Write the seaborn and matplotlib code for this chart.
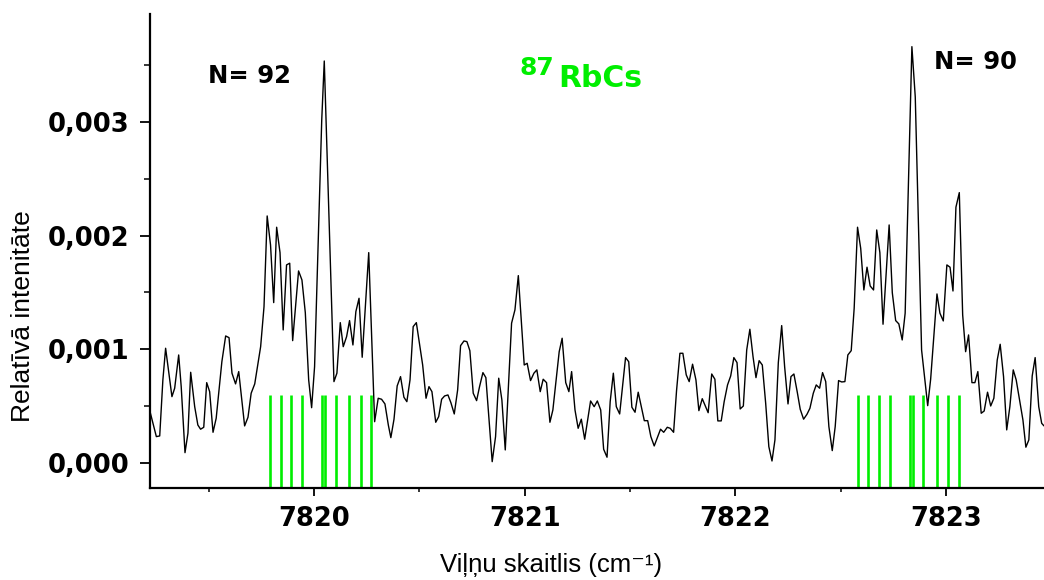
import numpy as np
import pandas as pd
import matplotlib
matplotlib.use("Agg")
import matplotlib.pyplot as plt
from matplotlib.ticker import MultipleLocator, FuncFormatter
import seaborn as sns

# Measured spectrum: wavenumber (cm^-1) and relative intensity (in units of 1e-3)
wavenumber = [
    7819.220, 7819.252, 7819.268, 7819.283, 7819.296, 7819.326, 7819.339, 7819.358, 7819.370, 7819.388,
    7819.402, 7819.415, 7819.434, 7819.449, 7819.462, 7819.477, 7819.491, 7819.505, 7819.521, 7819.536,
    7819.563, 7819.581, 7819.597, 7819.611, 7819.628, 7819.643, 7819.671, 7819.687, 7819.702, 7819.719,
    7819.747, 7819.763, 7819.778, 7819.794, 7819.809, 7819.823, 7819.839, 7819.854, 7819.870, 7819.885,
    7819.899, 7819.927, 7819.943, 7819.959, 7819.975, 7819.989, 7820.003, 7820.037, 7820.049, 7820.095,
    7820.109, 7820.125, 7820.139, 7820.155, 7820.169, 7820.185, 7820.199, 7820.214, 7820.229, 7820.260,
    7820.288, 7820.305, 7820.321, 7820.337, 7820.353, 7820.365, 7820.380, 7820.395, 7820.411, 7820.427,
    7820.441, 7820.456, 7820.471, 7820.486, 7820.516, 7820.532, 7820.546, 7820.560, 7820.578, 7820.592,
    7820.606, 7820.620, 7820.636, 7820.650, 7820.666, 7820.682, 7820.696, 7820.712, 7820.726, 7820.740,
    7820.756, 7820.772, 7820.786, 7820.802, 7820.816, 7820.832, 7820.846, 7820.862, 7820.877, 7820.892,
    7820.908, 7820.938, 7820.954, 7820.970, 7820.984, 7820.998, 7821.012, 7821.028, 7821.044, 7821.058,
    7821.074, 7821.088, 7821.104, 7821.120, 7821.134, 7821.164, 7821.178, 7821.195, 7821.210, 7821.223,
    7821.239, 7821.254, 7821.269, 7821.285, 7821.313, 7821.330, 7821.345, 7821.361, 7821.375, 7821.391,
    7821.406, 7821.421, 7821.435, 7821.451, 7821.479, 7821.494, 7821.509, 7821.524, 7821.539, 7821.568,
    7821.584, 7821.599, 7821.615, 7821.645, 7821.660, 7821.677, 7821.691, 7821.707, 7821.721, 7821.737,
    7821.751, 7821.767, 7821.781, 7821.797, 7821.813, 7821.827, 7821.843, 7821.857, 7821.871, 7821.888,
    7821.903, 7821.917, 7821.933, 7821.947, 7821.963, 7821.978, 7821.993, 7822.008, 7822.023, 7822.038,
    7822.054, 7822.069, 7822.084, 7822.098, 7822.113, 7822.128, 7822.144, 7822.159, 7822.174, 7822.188,
    7822.204, 7822.220, 7822.234, 7822.250, 7822.264, 7822.278, 7822.294, 7822.308, 7822.324, 7822.340,
    7822.354, 7822.370, 7822.384, 7822.400, 7822.414, 7822.429, 7822.444, 7822.460, 7822.474, 7822.490,
    7822.505, 7822.520, 7822.534, 7822.550, 7822.564, 7822.580, 7822.595, 7822.610, 7822.625, 7822.640,
    7822.656, 7822.671, 7822.686, 7822.701, 7822.730, 7822.745, 7822.761, 7822.776, 7822.792, 7822.806,
    7822.838, 7822.854, 7822.884, 7822.913, 7822.927, 7822.957, 7822.971, 7822.987, 7823.004, 7823.019,
    7823.033, 7823.047, 7823.063, 7823.079, 7823.093, 7823.107, 7823.123, 7823.137, 7823.151, 7823.167,
    7823.181, 7823.197, 7823.212, 7823.227, 7823.243, 7823.257, 7823.273, 7823.288, 7823.303, 7823.319,
    7823.333, 7823.349, 7823.365, 7823.379, 7823.393, 7823.409, 7823.423, 7823.440, 7823.454, 7823.465,
]

intensity_milli = [
    0.468, 0.234, 0.240, 0.732, 1.010, 0.585, 0.659, 0.951, 0.673, 0.093,
    0.264, 0.799, 0.497, 0.336, 0.299, 0.316, 0.708, 0.629, 0.272, 0.395,
    0.892, 1.118, 1.103, 0.791, 0.697, 0.805, 0.328, 0.404, 0.615, 0.697,
    1.024, 1.375, 2.172, 1.917, 1.411, 2.073, 1.850, 1.171, 1.742, 1.757,
    1.077, 1.689, 1.610, 1.323, 0.732, 0.488, 0.848, 3.015, 3.533, 0.717,
    0.791, 1.235, 1.024, 1.112, 1.253, 1.039, 1.332, 1.449, 0.931, 1.850,
    0.365, 0.571, 0.562, 0.521, 0.336, 0.225, 0.387, 0.679, 0.761, 0.580,
    0.541, 0.732, 1.200, 1.235, 0.863, 0.571, 0.673, 0.629, 0.360, 0.409,
    0.562, 0.591, 0.600, 0.532, 0.433, 0.644, 1.033, 1.074, 1.068, 0.989,
    0.615, 0.550, 0.673, 0.796, 0.752, 0.365, 0.014, 0.234, 0.747, 0.556,
    0.117, 1.230, 1.347, 1.648, 1.259, 0.863, 0.878, 0.726, 0.791, 0.820,
    0.629, 0.738, 0.708, 0.360, 0.468, 0.980, 1.098, 0.708, 0.629, 0.805,
    0.468, 0.307, 0.387, 0.211, 0.547, 0.497, 0.547, 0.468, 0.123, 0.053,
    0.541, 0.791, 0.497, 0.433, 0.928, 0.892, 0.492, 0.448, 0.624, 0.374,
    0.374, 0.234, 0.152, 0.299, 0.272, 0.316, 0.307, 0.272, 0.638, 0.966,
    0.966, 0.776, 0.717, 0.870, 0.732, 0.462, 0.567, 0.506, 0.444, 0.784,
    0.738, 0.372, 0.372, 0.541, 0.688, 0.767, 0.928, 0.884, 0.477, 0.503,
    0.995, 1.177, 0.936, 0.752, 0.901, 0.863, 0.527, 0.146, 0.020, 0.205,
    0.884, 1.209, 0.848, 0.521, 0.761, 0.784, 0.624, 0.474, 0.387, 0.430,
    0.483, 0.615, 0.688, 0.659, 0.796, 0.717, 0.322, 0.111, 0.322, 0.726,
    0.714, 0.717, 0.951, 0.989, 1.361, 2.073, 1.888, 1.522, 1.722, 1.557,
    1.522, 2.049, 1.850, 1.221, 2.093, 1.498, 1.253, 1.224, 1.083, 1.318,
    3.659, 3.217, 0.995, 0.506, 0.738, 1.487, 1.318, 1.250, 1.742, 1.722,
    1.513, 2.249, 2.377, 1.303, 0.980, 1.127, 0.708, 0.708, 0.805, 0.439,
    0.459, 0.624, 0.503, 0.571, 0.907, 1.045, 0.761, 0.293, 0.497, 0.820,
    0.732, 0.556, 0.380, 0.141, 0.205, 0.767, 0.928, 0.497, 0.351, 0.328,
]

# Calculated 87RbCs line positions for the two vibrational levels
lines_n92 = [7819.793, 7819.842, 7819.892, 7819.944, 7820.038,
             7820.054, 7820.104, 7820.166, 7820.222, 7820.272]
lines_n90 = [7822.583, 7822.631, 7822.682, 7822.732, 7822.827,
             7822.843, 7822.889, 7822.955, 7823.010, 7823.061]
line_marker_height = 0.0006

x_range = (7819.222, 7823.465)
y_range = (-0.00022, 0.003946)

assert len(wavenumber) == len(intensity_milli)
spectrum = pd.DataFrame({
    "wavenumber": wavenumber,
    "intensity": np.array(intensity_milli) * 1e-3,
})

sns.set_theme(style="ticks")
plt.rcParams["font.family"] = ["Liberation Sans", "DejaVu Sans"]

fig = plt.figure(figsize=(10.44, 5.80), dpi=100)
ax = fig.add_axes([0.1437, 0.1581, 0.8563, 0.8178])

green = "#00ee00"
ax.vlines(lines_n92 + lines_n90, y_range[0], line_marker_height,
          colors=green, linewidth=1.9, zorder=1)

sns.lineplot(data=spectrum, x="wavenumber", y="intensity", sort=False,
             estimator=None, color="black", linewidth=1.0, ax=ax, zorder=2)

ax.set_xlim(*x_range)
ax.set_ylim(*y_range)

ax.xaxis.set_major_locator(MultipleLocator(1))
ax.xaxis.set_minor_locator(MultipleLocator(0.5))
ax.yaxis.set_major_locator(MultipleLocator(0.001))
ax.yaxis.set_minor_locator(MultipleLocator(0.0005))
ax.xaxis.set_major_formatter(FuncFormatter(lambda v, p: f"{v:.0f}"))
ax.yaxis.set_major_formatter(FuncFormatter(lambda v, p: f"{v:.3f}".replace(".", ",")))

for side in ("top", "right"):
    ax.spines[side].set_visible(False)
for side in ("left", "bottom"):
    ax.spines[side].set_linewidth(1.6)
    ax.spines[side].set_color("black")

ax.tick_params(axis="y", which="major", direction="out", length=7, width=1.3,
               pad=8, colors="black")
ax.tick_params(axis="y", which="minor", direction="out", length=4.3, width=1.1,
               colors="black")
ax.tick_params(axis="x", which="major", direction="out", length=6, width=1.3,
               pad=7, colors="black")
ax.tick_params(axis="x", which="minor", direction="out", length=3.2, width=1.1,
               colors="black")

for lbl in ax.get_xticklabels() + ax.get_yticklabels():
    lbl.set_fontfamily("DejaVu Sans")
    lbl.set_fontweight("bold")
    lbl.set_fontsize(18.5)

ax.set_xlabel("Viļņu skaitlis (cm⁻¹)", fontsize=18.5, labelpad=15,
              color="black", x=0.449)
ax.set_ylabel("Relatīvā intenitāte", fontsize=19, labelpad=9, color="black",
              y=0.363)

ax.text(0.0649, 0.8539, "N= 92", transform=ax.transAxes, fontsize=17.5,
        fontweight="bold", family="DejaVu Sans", ha="left", va="baseline",
        color="black")
ax.text(0.8773, 0.8834, "N= 90", transform=ax.transAxes, fontsize=17.5,
        fontweight="bold", family="DejaVu Sans", ha="left", va="baseline",
        color="black")
ax.text(0.4128, 0.8714, "87", transform=ax.transAxes, fontsize=18,
        fontweight="bold", family="DejaVu Sans", ha="left", va="baseline",
        color=green)
ax.text(0.4564, 0.8455, "RbCs", transform=ax.transAxes, fontsize=21.5,
        fontweight="bold", family="DejaVu Sans", ha="left", va="baseline",
        color=green)

fig.savefig("out.png", dpi=100)
